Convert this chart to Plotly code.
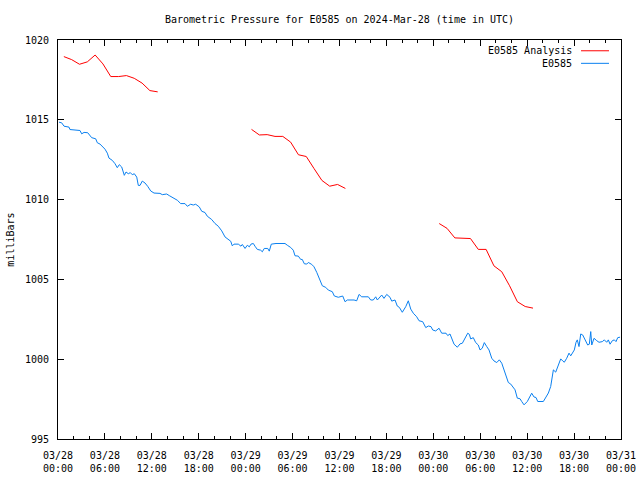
import pandas as pd
import plotly.graph_objects as go

BASE = pd.Timestamp("2024-03-28 00:00")

# Observed station pressure (hours after 03/28 00:00 UTC, mb)
obs_hours = [0.13, 0.47, 0.77, 1.41, 1.53, 2.81, 3.03, 3.33, 3.80, 4.00, 4.31, 4.82, 5.03, 5.37, 5.72,
             6.01, 6.31, 6.52, 6.94, 7.29, 7.58, 7.84, 8.15, 8.35, 8.48, 8.70, 8.99, 9.25, 9.50, 9.76,
             10.07, 10.27, 10.49, 10.78, 11.13, 11.47, 11.86, 12.28, 13.04, 13.34, 13.90, 14.23, 14.54,
             14.87, 15.26, 15.69, 16.24, 16.54, 16.97, 17.30, 17.61, 18.07, 18.38, 18.80, 19.09, 19.66,
             20.08, 20.50, 20.94, 21.36, 21.78, 22.09, 22.29, 22.51, 23.06, 23.40, 23.57, 23.92, 24.21,
             24.47, 24.68, 24.98, 25.19, 25.49, 25.92, 26.13, 26.38, 26.82, 27.02, 27.28, 27.88, 29.03,
             29.33, 29.76, 30.09, 30.31, 30.73, 31.04, 31.24, 31.50, 31.81, 32.01, 32.45, 32.74, 33.09,
             33.42, 33.80, 34.24, 34.57, 35.08, 35.34, 35.85, 36.41, 36.71, 37.00, 37.86, 38.20, 38.50,
             38.84, 39.69, 39.99, 40.32, 40.63, 40.84, 41.09, 41.40, 41.69, 42.04, 42.46, 42.68, 43.10,
             43.39, 43.65, 44.03, 44.47, 44.80, 45.11, 45.44, 45.87, 46.17, 46.64, 47.03, 47.36, 47.70,
             47.92, 48.30, 48.73, 49.07, 49.62, 49.84, 50.13, 50.43, 50.65, 51.07, 51.41, 51.71, 52.05,
             52.40, 52.60, 52.78, 53.11, 53.42, 53.75, 53.97, 54.26, 54.52, 54.83, 55.12, 55.47, 55.76,
             56.11, 56.44, 56.75, 57.04, 57.30, 57.59, 57.90, 58.15, 58.45, 58.74, 59.09, 59.30, 59.60,
             60.02, 60.24, 60.58, 60.88, 61.13, 61.35, 62.07, 62.41, 62.71, 63.01, 63.14, 63.35, 63.65,
             63.86, 64.07, 64.29, 64.55, 64.75, 65.06, 65.35, 65.57, 65.83, 66.03, 66.25, 66.41, 66.63,
             66.85, 67.10, 67.40, 67.74, 67.95, 68.13, 68.26, 68.55, 68.90, 69.19, 69.61, 69.87, 70.17,
             70.38, 70.60, 70.89, 71.15, 71.36, 71.58, 71.88]
obs_mb = [1014.85, 1014.81, 1014.60, 1014.54, 1014.39, 1014.33, 1014.12, 1014.21, 1014.19, 1014.06,
          1013.88, 1013.81, 1013.56, 1013.48, 1013.29, 1013.16, 1012.91, 1012.60, 1012.46, 1012.25,
          1012.00, 1012.19, 1012.04, 1011.79, 1011.52, 1011.73, 1011.62, 1011.69, 1011.56, 1011.62,
          1011.41, 1010.89, 1010.89, 1011.16, 1011.04, 1010.83, 1010.54, 1010.41, 1010.39, 1010.31,
          1010.35, 1010.25, 1010.16, 1010.06, 1009.96, 1009.75, 1009.75, 1009.58, 1009.71, 1009.66,
          1009.71, 1009.54, 1009.27, 1009.19, 1008.96, 1008.75, 1008.50, 1008.33, 1008.04, 1007.66,
          1007.52, 1007.39, 1007.10, 1007.21, 1007.21, 1007.08, 1007.19, 1006.94, 1007.14, 1007.04,
          1007.21, 1007.25, 1007.08, 1006.88, 1006.83, 1006.73, 1006.94, 1006.94, 1006.77, 1007.21,
          1007.25, 1007.25, 1007.14, 1007.00, 1006.83, 1006.48, 1006.46, 1006.25, 1006.25, 1005.98,
          1005.96, 1006.06, 1005.94, 1005.79, 1005.44, 1005.06, 1004.60, 1004.50, 1004.33, 1004.23,
          1003.96, 1003.88, 1003.96, 1003.60, 1003.71, 1003.71, 1003.66, 1004.06, 1003.91, 1003.91,
          1003.71, 1003.71, 1003.91, 1003.71, 1003.88, 1004.02, 1003.81, 1004.06, 1003.88, 1003.64,
          1003.71, 1003.33, 1003.25, 1002.94, 1003.29, 1003.66, 1003.14, 1002.88, 1002.66, 1002.41,
          1002.35, 1001.98, 1002.08, 1002.04, 1001.83, 1001.77, 1001.94, 1001.63, 1001.63, 1001.48,
          1001.58, 1001.27, 1000.94, 1000.75, 1000.96, 1001.00, 1001.35, 1001.63, 1001.56, 1001.27,
          1001.35, 1001.04, 1000.89, 1000.58, 1000.69, 1001.04, 1000.79, 1000.58, 1000.06, 999.89,
          999.79, 999.96, 999.75, 999.33, 998.91, 998.54, 998.44, 998.25, 998.08, 997.56,
          997.52, 997.35, 997.14, 997.35, 997.52, 997.87, 997.63, 997.60, 997.35, 997.35,
          997.63, 997.88, 998.29, 998.64, 999.33, 999.19, 999.44, 999.75, 1000.02, 999.89,
          999.81, 1000.06, 1000.38, 1000.21, 1000.41, 1000.58, 1001.06, 1001.21, 1000.79, 1001.58,
          1001.52, 1001.21, 1000.89, 1000.94, 1001.73, 1000.89, 1001.31, 1001.16, 1001.06, 1001.10,
          1001.21, 1001.06, 1001.21, 1000.94, 1001.16, 1001.21, 1001.10, 1001.35, 1001.38]

# Analysis pressure, three runs (hours after 03/28 00:00 UTC, mb)
ana1_hours = [0.75, 1.75, 2.75, 3.75, 4.75, 5.75, 6.75, 7.75, 8.75, 9.75, 10.75, 11.75, 12.75]
ana1_mb = [1018.96, 1018.77, 1018.48, 1018.63, 1019.06, 1018.50, 1017.71, 1017.71, 1017.77,
           1017.60, 1017.30, 1016.83, 1016.75]
ana2_hours = [24.75, 25.75, 26.75, 27.75, 28.75, 29.75, 30.75, 31.75, 32.75, 33.75, 34.75, 35.75, 36.75]
ana2_mb = [1014.40, 1014.05, 1014.07, 1013.96, 1013.96, 1013.60, 1012.81, 1012.70, 1011.94,
           1011.20, 1010.84, 1010.95, 1010.70]
ana3_hours = [48.75, 49.75, 50.75, 51.75, 52.75, 53.75, 54.75, 55.75, 56.75, 57.75, 58.75, 59.75, 60.75]
ana3_mb = [1008.50, 1008.20, 1007.60, 1007.56, 1007.56, 1006.88, 1006.88, 1005.85, 1005.48,
           1004.60, 1003.60, 1003.30, 1003.20]

tick_hours = [0, 6, 12, 18, 24, 30, 36, 42, 48, 54, 60, 66, 72]
tick_labels = ["03/28<br>00:00", "03/28<br>06:00", "03/28<br>12:00", "03/28<br>18:00",
               "03/29<br>00:00", "03/29<br>06:00", "03/29<br>12:00", "03/29<br>18:00",
               "03/30<br>00:00", "03/30<br>06:00", "03/30<br>12:00", "03/30<br>18:00",
               "03/31<br>00:00"]
y_ticks = [995, 1000, 1005, 1010, 1015, 1020]

RED = "#ff0000"
BLUE = "#0a80f0"
FONT = "DejaVu Sans Mono"

FIG_W, FIG_H = 640, 480


def to_time(hours):
    return [BASE + pd.Timedelta(hours=h) for h in hours]


ana_hours = ana1_hours + [None] + ana2_hours + [None] + ana3_hours
ana_mb = ana1_mb + [None] + ana2_mb + [None] + ana3_mb
ana_time = [None if h is None else BASE + pd.Timedelta(hours=h) for h in ana_hours]

fig = go.Figure()
fig.add_trace(go.Scatter(x=ana_time, y=ana_mb, mode="lines", name="E0585 Analysis",
                         line=dict(color=RED, width=1), connectgaps=False))
fig.add_trace(go.Scatter(x=to_time(obs_hours), y=obs_mb, mode="lines", name="E0585",
                         line=dict(color=BLUE, width=1)))

fig.update_layout(
    width=FIG_W, height=FIG_H,
    margin=dict(l=58, r=19, t=40, b=41, autoexpand=False),
    paper_bgcolor="white", plot_bgcolor="white",
    showlegend=False,
    font=dict(family=FONT, size=10, color="black"),
    title=dict(text="Barometric Pressure for E0585 on 2024-Mar-28 (time in UTC)",
               x=0.5, xref="paper", xanchor="center",
               y=1 - 19 / FIG_H, yref="container", yanchor="middle",
               font=dict(family=FONT, size=10, color="black")),
)
fig.update_xaxes(
    type="date", automargin=False,
    range=[BASE, BASE + pd.Timedelta(hours=72)],
    tickvals=to_time(tick_hours), ticktext=tick_labels,
    ticks="inside", ticklen=6, tickcolor="black", tickwidth=1,
    minor=dict(dtick=2 * 3600 * 1000, tick0=BASE, ticks="inside", ticklen=3,
               tickcolor="black", tickwidth=1, showgrid=False),
    showline=True, linecolor="black", linewidth=1, mirror="allticks",
    showgrid=False, zeroline=False, ticklabelstandoff=7,
    tickfont=dict(family=FONT, size=10, color="black"),
)
fig.update_yaxes(
    automargin=False,
    range=[995, 1020], tickvals=y_ticks,
    ticks="inside", ticklen=6, tickcolor="black", tickwidth=1,
    showline=True, linecolor="black", linewidth=1, mirror="allticks",
    showgrid=False, zeroline=False, ticklabelstandoff=6,
    tickfont=dict(family=FONT, size=10, color="black"),
)

# y-axis title
fig.add_annotation(text="milliBars", textangle=-90, xref="paper", yref="paper",
                   x=-0.085, y=0.5, xanchor="center", yanchor="middle", showarrow=False,
                   font=dict(family=FONT, size=10, color="black"))

# gnuplot-style key: text on the left, line sample on the right
key = [("E0585 Analysis", RED, 0.973), ("E0585", BLUE, 0.9415)]
for label, color, yk in key:
    fig.add_annotation(text=label, xref="paper", yref="paper", x=0.9165, y=yk,
                       xanchor="right", yanchor="middle", showarrow=False,
                       font=dict(family=FONT, size=10, color="black"))
    fig.add_shape(type="line", xref="paper", yref="paper", x0=0.929, x1=0.9787,
                  y0=yk, y1=yk, line=dict(color=color, width=1))

# remove the default page margin so the 640x480 figure fills the window exactly
fig.write_html("out.html",
               config={"displayModeBar": False, "staticPlot": True},
               post_script="document.body.style.margin='0';document.body.style.overflow='hidden';")
